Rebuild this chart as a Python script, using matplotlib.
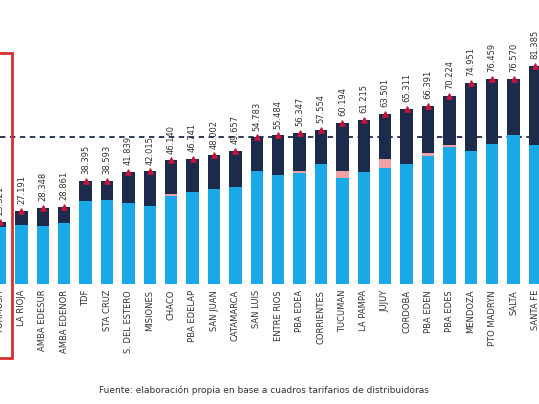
import numpy as np
import matplotlib.pyplot as plt

regions = ['FORMOSA', 'LA RIOJA', 'AMBA EDESUR', 'AMBA EDENOR', 'TDF', 'STA CRUZ',
           'S. DEL ESTERO', 'MISIONES', 'CHACO', 'PBA EDELAP', 'SAN JUAN', 'CATAMARCA',
           'SAN LUIS', 'ENTRE RIOS', 'PBA EDEA', 'CORRIENTES', 'TUCUMAN', 'LA PAMPA',
           'JUJUY', 'CORDOBA', 'PBA EDEN', 'PBA EDES', 'MENDOZA', 'PTO MADRYN', 'SALTA',
           'SANTA FE']
totals = [23.321, 27.191, 28.348, 28.861, 38.395, 38.593, 41.839, 42.015, 46.140, 46.741,
          48.002, 49.657, 54.783, 55.484, 56.347, 57.554, 60.194, 61.215, 63.501, 65.311,
          66.391, 70.224, 74.951, 76.459, 76.570, 81.385]
base = [21.3, 22.0, 21.7, 22.8, 31.0, 31.4, 30.3, 29.1, 32.9, 34.4, 35.5, 36.3, 42.2,
        40.7, 41.5, 44.8, 39.6, 41.9, 43.3, 44.8, 47.8, 51.2, 49.7, 52.3, 55.7, 51.9]
pink = [0, 0, 0, 0, 0, 0, 0, 0, 0.8, 0, 0, 0, 0, 0, 0.6, 0, 2.6, 0, 3.4, 0, 1.0, 0.6,
        0, 0, 0, 0]
ref_line = 55
labels = [f'{v:.3f}' for v in totals]

fig = plt.figure(figsize=(5.39, 4.04), dpi=100)
ax = fig.add_axes([0, 0.297, 1, 0.703])
x = np.arange(len(regions))
dark = [t - b - p for t, b, p in zip(totals, base, pink)]
bot2 = [b + p for b, p in zip(base, pink)]
ax.bar(x, base, width=0.58, color='#19a9e6')
ax.bar(x, pink, bottom=base, width=0.58, color='#f2a0a8')
ax.bar(x, dark, bottom=bot2, width=0.58, color='#1c2a4b')
ax.scatter(x, totals, marker='^', s=14, color='#c8143c', zorder=3)
ax.axhline(ref_line, color='#1c2a4b', ls=(0, (3, 2.5)), lw=1.3, zorder=0)
for xi, t, lab in zip(x, totals, labels):
    ax.text(xi, t + 2.5, lab, rotation=90, ha='center', va='bottom', fontsize=6,
            color='#333333')
for xi, r in zip(x, regions):
    ax.text(xi, -2.2, r, rotation=90, ha='center', va='top', fontsize=6, color='#333333')
ax.set_xlim(0, 539 / 21.4)
ax.set_ylim(0, 106)
ax.axis('off')

# red highlight box around FORMOSA
fig.add_artist(plt.Rectangle((-0.02, 1 - 358 / 404), 0.042, (358 - 53) / 404,
                             transform=fig.transFigure, fill=False, ec='#d62f2f', lw=2))
fig.text(0.49, 1 - 390 / 404, 'Fuente: elaboración propia en base a cuadros tarifarios de distribuidoras',
         ha='center', va='center', fontsize=6.5, color='#333333')
fig.savefig('out.png', dpi=100)
